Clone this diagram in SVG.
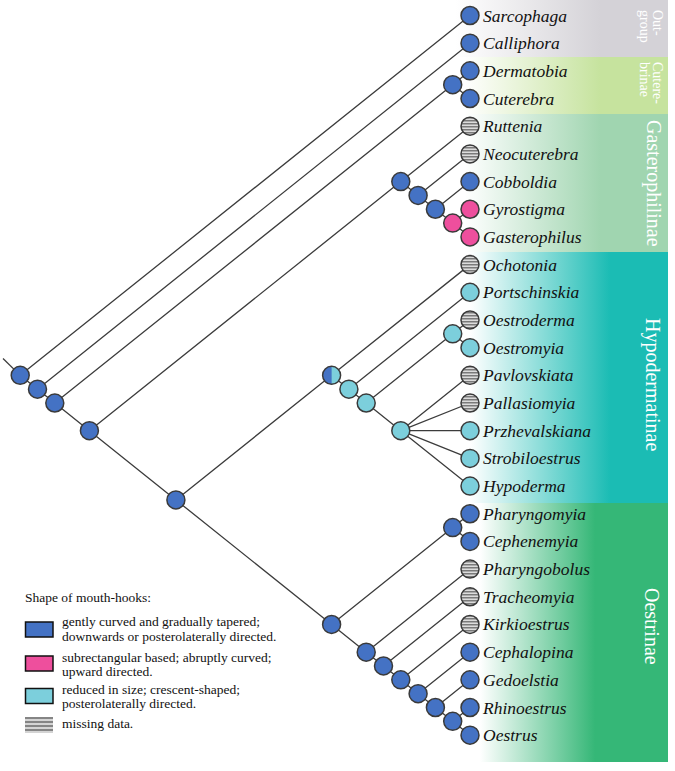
<svg xmlns="http://www.w3.org/2000/svg" width="675" height="771" viewBox="0 0 675 771">
<style>
.e{stroke:#3c3c3c;stroke-width:1.3;fill:none}
.n{stroke:#3a3a3a;stroke-width:1.5}
.b{fill:#4472C4}
.p{fill:#EE4F9D}
.c{fill:#7CCFDC}
.m{fill:url(#hatch)}
.t{font-style:italic;font-size:17.5px;fill:#111}
.bl{fill:#fff}
.lg{font-size:13.5px;fill:#111}
.lb{stroke:#111;stroke-width:1.5}
</style>
<defs>
<pattern id="hatch" patternUnits="userSpaceOnUse" width="6" height="3">
<rect width="6" height="3" fill="#dcdcdc"/>
<rect width="6" height="1.5" fill="#7a7a7a"/>
</pattern>
<pattern id="hatchL" patternUnits="userSpaceOnUse" x="0" y="717" width="6" height="4">
<rect width="6" height="4" fill="#d4d4d4"/>
<rect width="6" height="2" fill="#858585"/>
</pattern>
<linearGradient id="gOut" gradientUnits="userSpaceOnUse" x1="455" y1="0" x2="600" y2="0"><stop offset="0" stop-color="#D4D2D7" stop-opacity="0"/><stop offset="1" stop-color="#D4D2D7"/></linearGradient>
<linearGradient id="gCut" gradientUnits="userSpaceOnUse" x1="465" y1="0" x2="600" y2="0"><stop offset="0" stop-color="#C6E39E" stop-opacity="0"/><stop offset="1" stop-color="#C6E39E"/></linearGradient>
<linearGradient id="gGas" gradientUnits="userSpaceOnUse" x1="465" y1="0" x2="600" y2="0"><stop offset="0" stop-color="#A0D5B0" stop-opacity="0"/><stop offset="1" stop-color="#A0D5B0"/></linearGradient>
<linearGradient id="gHyp" gradientUnits="userSpaceOnUse" x1="470" y1="0" x2="610" y2="0"><stop offset="0" stop-color="#1BBCB4" stop-opacity="0"/><stop offset="1" stop-color="#1BBCB4"/></linearGradient>
<linearGradient id="gOes" gradientUnits="userSpaceOnUse" x1="480" y1="0" x2="595" y2="0"><stop offset="0" stop-color="#35B777" stop-opacity="0"/><stop offset="1" stop-color="#35B777"/></linearGradient>
</defs>
<rect width="675" height="771" fill="#fff"/>
<g id="bands" font-family="'Liberation Serif', 'DejaVu Serif', serif">
<rect x="440" y="0" width="228" height="57" fill="url(#gOut)"/>
<rect x="440" y="57" width="228" height="57" fill="url(#gCut)"/>
<rect x="440" y="114" width="228" height="138" fill="url(#gGas)"/>
<rect x="440" y="252" width="228" height="251" fill="url(#gHyp)"/>
<rect x="440" y="503" width="228" height="259" fill="url(#gOes)"/>
<text class="bl" font-size="14" transform="translate(653,10) rotate(90)">Out-</text>
<text class="bl" font-size="14" transform="translate(640,10) rotate(90)">group</text>
<text class="bl" font-size="14" transform="translate(653,62) rotate(90)">Cutere-</text>
<text class="bl" font-size="14" transform="translate(640,62) rotate(90)">brinae</text>
<text class="bl" font-size="20" transform="translate(647,120) rotate(90)">Gasterophilinae</text>
<text class="bl" font-size="20" transform="translate(646,318) rotate(90)">Hypodermatinae</text>
<text class="bl" font-size="20" transform="translate(645,588) rotate(90)">Oestrinae</text>
</g>
<g id="connectors" class="e">
<path d="M3,358.5L20.2,375.34"/>
<path d="M20.2,375.34L470,15.5M20.2,375.34L37.5,389.18"/>
<path d="M37.5,389.18L470,43.18M37.5,389.18L54.8,403.02"/>
<path d="M54.8,403.02L452.7,84.7M54.8,403.02L89.4,430.7"/>
<path d="M452.7,84.7L470,70.86M452.7,84.7L470,98.54"/>
<path d="M89.4,430.7L400.8,181.58M89.4,430.7L175.9,499.9"/>
<path d="M400.8,181.58L470,126.22M400.8,181.58L418.1,195.42"/>
<path d="M418.1,195.42L470,153.9M418.1,195.42L435.4,209.26"/>
<path d="M435.4,209.26L470,181.58M435.4,209.26L452.7,223.1"/>
<path d="M452.7,223.1L470,209.26M452.7,223.1L470,236.94"/>
<path d="M175.9,499.9L331.6,375.34M175.9,499.9L331.6,624.46"/>
<path d="M331.6,375.34L470,264.62M331.6,375.34L348.9,389.18"/>
<path d="M348.9,389.18L470,292.3M348.9,389.18L366.2,403.02"/>
<path d="M366.2,403.02L452.7,333.82M366.2,403.02L400.8,430.7"/>
<path d="M452.7,333.82L470,319.98M452.7,333.82L470,347.66"/>
<path d="M400.8,430.7L470,375.34M400.8,430.7L470,403.02M400.8,430.7L470,430.7M400.8,430.7L470,458.38M400.8,430.7L470,486.06"/>
<path d="M331.6,624.46L452.7,527.58M331.6,624.46L366.2,652.14"/>
<path d="M452.7,527.58L470,513.74M452.7,527.58L470,541.42"/>
<path d="M366.2,652.14L470,569.1M366.2,652.14L383.5,665.98"/>
<path d="M383.5,665.98L470,596.78M383.5,665.98L400.8,679.82"/>
<path d="M400.8,679.82L470,624.46M400.8,679.82L418.1,693.66"/>
<path d="M418.1,693.66L470,652.14M418.1,693.66L435.4,707.5"/>
<path d="M435.4,707.5L470,679.82M435.4,707.5L452.7,721.34"/>
<path d="M452.7,721.34L470,707.5M452.7,721.34L470,735.18"/>
</g>
<g id="internal-nodes">
<g id="nA"><circle class="n b" cx="20.2" cy="375.34" r="9"/></g>
<g id="nB"><circle class="n b" cx="37.5" cy="389.18" r="9"/></g>
<g id="nC"><circle class="n b" cx="54.8" cy="403.02" r="9"/></g>
<g id="nCut"><circle class="n b" cx="452.7" cy="84.7" r="9"/></g>
<g id="nD"><circle class="n b" cx="89.4" cy="430.7" r="9"/></g>
<g id="nG1"><circle class="n b" cx="400.8" cy="181.58" r="9"/></g>
<g id="nG2"><circle class="n b" cx="418.1" cy="195.42" r="9"/></g>
<g id="nG3"><circle class="n b" cx="435.4" cy="209.26" r="9"/></g>
<g id="nG4"><circle class="n p" cx="452.7" cy="223.1" r="9"/></g>
<g id="nE"><circle class="n b" cx="175.9" cy="499.9" r="9"/></g>
<g id="nH1"><circle class="c" cx="331.6" cy="375.34" r="9"/><path class="b" d="M331.6,366.34A9,9 0 0 0 331.6,384.34Z"/><circle class="n" fill="none" cx="331.6" cy="375.34" r="9"/></g>
<g id="nH2"><circle class="n c" cx="348.9" cy="389.18" r="9"/></g>
<g id="nH3"><circle class="n c" cx="366.2" cy="403.02" r="9"/></g>
<g id="nH4"><circle class="n c" cx="452.7" cy="333.82" r="9"/></g>
<g id="nH5"><circle class="n c" cx="400.8" cy="430.7" r="9"/></g>
<g id="nO1"><circle class="n b" cx="331.6" cy="624.46" r="9"/></g>
<g id="nO2"><circle class="n b" cx="452.7" cy="527.58" r="9"/></g>
<g id="nO3"><circle class="n b" cx="366.2" cy="652.14" r="9"/></g>
<g id="nO4"><circle class="n b" cx="383.5" cy="665.98" r="9"/></g>
<g id="nO5"><circle class="n b" cx="400.8" cy="679.82" r="9"/></g>
<g id="nO6"><circle class="n b" cx="418.1" cy="693.66" r="9"/></g>
<g id="nO7"><circle class="n b" cx="435.4" cy="707.5" r="9"/></g>
<g id="nO8"><circle class="n b" cx="452.7" cy="721.34" r="9"/></g>
</g>
<g id="leaves" font-family="'Liberation Serif', 'DejaVu Serif', serif">
<g id="Sarcophaga"><circle class="n b" cx="470" cy="15.5" r="9"/><text class="t" x="483" y="21.5">Sarcophaga</text></g>
<g id="Calliphora"><circle class="n b" cx="470" cy="43.18" r="9"/><text class="t" x="483" y="49.18">Calliphora</text></g>
<g id="Dermatobia"><circle class="n b" cx="470" cy="70.86" r="9"/><text class="t" x="483" y="76.86">Dermatobia</text></g>
<g id="Cuterebra"><circle class="n b" cx="470" cy="98.54" r="9"/><text class="t" x="483" y="104.54">Cuterebra</text></g>
<g id="Ruttenia"><circle class="n m" cx="470" cy="126.22" r="9"/><text class="t" x="483" y="132.22">Ruttenia</text></g>
<g id="Neocuterebra"><circle class="n m" cx="470" cy="153.9" r="9"/><text class="t" x="483" y="159.9">Neocuterebra</text></g>
<g id="Cobboldia"><circle class="n b" cx="470" cy="181.58" r="9"/><text class="t" x="483" y="187.58">Cobboldia</text></g>
<g id="Gyrostigma"><circle class="n p" cx="470" cy="209.26" r="9"/><text class="t" x="483" y="215.26">Gyrostigma</text></g>
<g id="Gasterophilus"><circle class="n p" cx="470" cy="236.94" r="9"/><text class="t" x="483" y="242.94">Gasterophilus</text></g>
<g id="Ochotonia"><circle class="n m" cx="470" cy="264.62" r="9"/><text class="t" x="483" y="270.62">Ochotonia</text></g>
<g id="Portschinskia"><circle class="n c" cx="470" cy="292.3" r="9"/><text class="t" x="483" y="298.3">Portschinskia</text></g>
<g id="Oestroderma"><circle class="n m" cx="470" cy="319.98" r="9"/><text class="t" x="483" y="325.98">Oestroderma</text></g>
<g id="Oestromyia"><circle class="n c" cx="470" cy="347.66" r="9"/><text class="t" x="483" y="353.66">Oestromyia</text></g>
<g id="Pavlovskiata"><circle class="n m" cx="470" cy="375.34" r="9"/><text class="t" x="483" y="381.34">Pavlovskiata</text></g>
<g id="Pallasiomyia"><circle class="n m" cx="470" cy="403.02" r="9"/><text class="t" x="483" y="409.02">Pallasiomyia</text></g>
<g id="Przhevalskiana"><circle class="n c" cx="470" cy="430.7" r="9"/><text class="t" x="483" y="436.7">Przhevalskiana</text></g>
<g id="Strobiloestrus"><circle class="n c" cx="470" cy="458.38" r="9"/><text class="t" x="483" y="464.38">Strobiloestrus</text></g>
<g id="Hypoderma"><circle class="n c" cx="470" cy="486.06" r="9"/><text class="t" x="483" y="492.06">Hypoderma</text></g>
<g id="Pharyngomyia"><circle class="n b" cx="470" cy="513.74" r="9"/><text class="t" x="483" y="519.74">Pharyngomyia</text></g>
<g id="Cephenemyia"><circle class="n b" cx="470" cy="541.42" r="9"/><text class="t" x="483" y="547.42">Cephenemyia</text></g>
<g id="Pharyngobolus"><circle class="n m" cx="470" cy="569.1" r="9"/><text class="t" x="483" y="575.1">Pharyngobolus</text></g>
<g id="Tracheomyia"><circle class="n m" cx="470" cy="596.78" r="9"/><text class="t" x="483" y="602.78">Tracheomyia</text></g>
<g id="Kirkioestrus"><circle class="n m" cx="470" cy="624.46" r="9"/><text class="t" x="483" y="630.46">Kirkioestrus</text></g>
<g id="Cephalopina"><circle class="n b" cx="470" cy="652.14" r="9"/><text class="t" x="483" y="658.14">Cephalopina</text></g>
<g id="Gedoelstia"><circle class="n b" cx="470" cy="679.82" r="9"/><text class="t" x="483" y="685.82">Gedoelstia</text></g>
<g id="Rhinoestrus"><circle class="n b" cx="470" cy="707.5" r="9"/><text class="t" x="483" y="713.5">Rhinoestrus</text></g>
<g id="Oestrus"><circle class="n b" cx="470" cy="735.18" r="9"/><text class="t" x="483" y="741.18">Oestrus</text></g>
</g>
<g id="legend" font-family="'Liberation Serif', 'DejaVu Serif', serif">
<text class="lg" x="25" y="602">Shape of mouth-hooks:</text>
<rect class="lb b" x="25.5" y="622" width="27.5" height="15"/>
<text class="lg" x="62" y="626">gently curved and gradually tapered;</text>
<text class="lg" x="62" y="641">downwards or posterolaterally directed.</text>
<rect class="lb p" x="25.5" y="656" width="27.5" height="15"/>
<text class="lg" x="62" y="662">subrectangular based; abruptly curved;</text>
<text class="lg" x="62" y="676">upward directed.</text>
<rect class="lb c" x="25.5" y="688.5" width="27.5" height="15"/>
<text class="lg" x="62" y="694">reduced in size; crescent-shaped;</text>
<text class="lg" x="62" y="708">posterolaterally directed.</text>
<rect x="25" y="717" width="28" height="16" fill="url(#hatchL)"/>
<text class="lg" x="62" y="728">missing data.</text>
</g>
</svg>
